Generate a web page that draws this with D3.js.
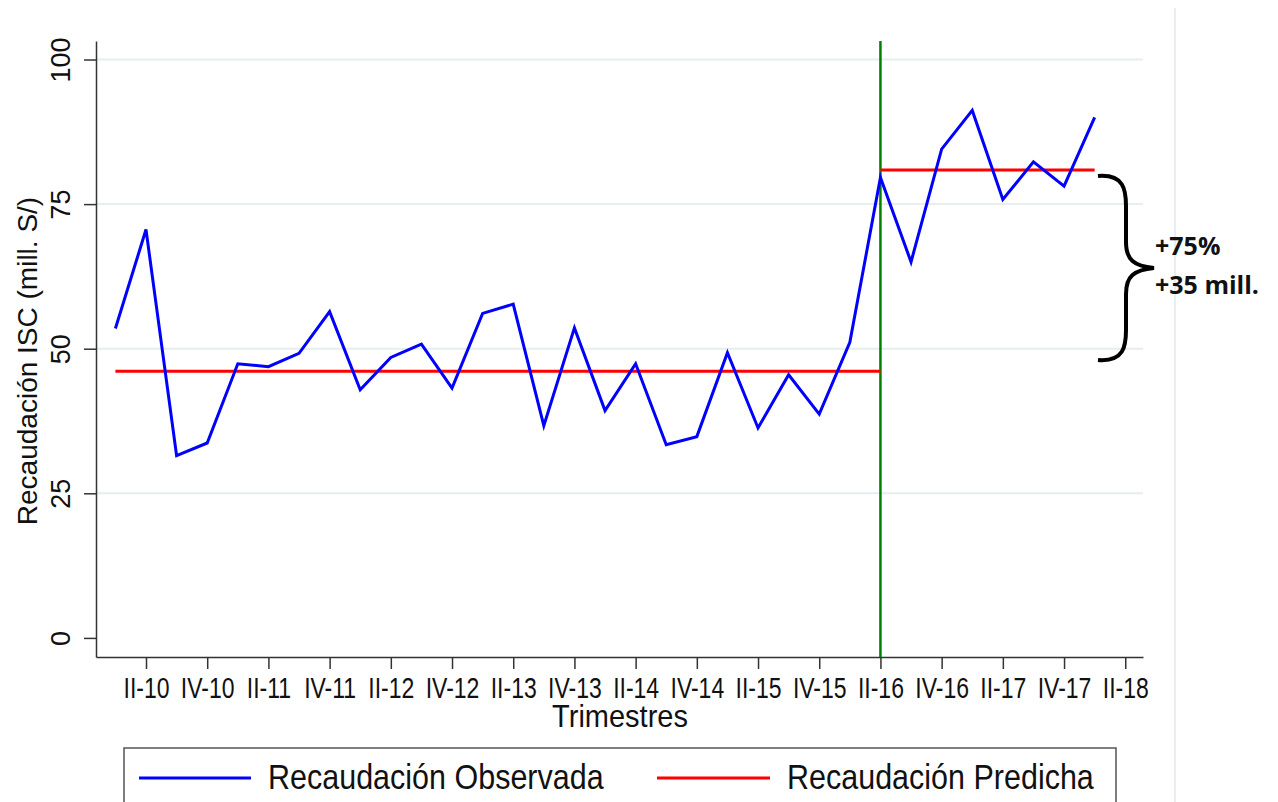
<!DOCTYPE html>
<title>Recaudacion ISC</title>
<meta charset="utf-8">
<style>
  body { margin: 0; background: #fff; }
  text { font-family: "Liberation Sans", Arial, sans-serif; fill: #111; }
  .grid line { stroke: #e6eef0; stroke-width: 2px; }
  .axis path, .axis line { stroke: #333; stroke-width: 1.5px; }
  .note { font-family: "Open Sans", sans-serif; font-weight: bold; }
</style>
<body>
<script src="https://cdn.jsdelivr.net/npm/d3@7"></script>
<script>

// quarters from I-10 to I-18
var quarters = ["I-10","II-10","III-10","IV-10","I-11","II-11","III-11","IV-11",
  "I-12","II-12","III-12","IV-12","I-13","II-13","III-13","IV-13",
  "I-14","II-14","III-14","IV-14","I-15","II-15","III-15","IV-15",
  "I-16","II-16","III-16","IV-16","I-17","II-17","III-17","IV-17","I-18"];

// observed ISC revenue (mill. S/)
var observed = [53.5, 70.6, 31.5, 33.7, 47.4, 46.9, 49.2, 56.4,
  42.9, 48.5, 50.8, 43.2, 56.1, 57.7, 36.7, 53.6,
  39.3, 47.4, 33.4, 34.8, 49.3, 36.3, 45.5, 38.7,
  51.1, 79.6, 65.0, 84.5, 91.2, 75.8, 82.3, 78.1, 90.0];

// predicted level before / after the break
var predicted = [
  {from: "I-10", to: "II-16", value: 46.1},
  {from: "II-16", to: "I-18", value: 80.9}
];

var breakQuarter = "II-16";

var xTickLabels = ["II-10","IV-10","II-11","IV-11","II-12","IV-12","II-13","IV-13",
  "II-14","IV-14","II-15","IV-15","II-16","IV-16","II-17","IV-17","II-18"];
var yTicks = [0, 25, 50, 75, 100];

var noteLines = ["+75%", "+35 mill."];
var legendLabels = ["Recaudación Observada", "Recaudación Predicha"];

var width = 1278, height = 802;
var margin = {left: 96, right: 1143, top: 41, bottom: 657};

var svg = d3.select("body").append("svg")
    .attr("width", width)
    .attr("height", height);

// index of a quarter label, II-18 goes one past the data
function qi(q) {
  var i = quarters.indexOf(q);
  return i >= 0 ? i : quarters.length;
}

var x = d3.scaleLinear().domain([-0.634, 33.58]).range([margin.left, margin.right]);
var y = d3.scaleLinear().domain([-3.3, 103.2]).range([margin.bottom, margin.top]);

// faint slide line on the right
svg.append("line")
    .attr("x1", 1175).attr("x2", 1175)
    .attr("y1", 8).attr("y2", height)
    .style("stroke", "#e8eff2").style("stroke-width", 2);

// grid lines
svg.append("g").attr("class", "grid")
  .selectAll("line")
  .data(yTicks.filter(function(d) { return d > 0; }))
  .enter().append("line")
    .attr("x1", margin.left).attr("x2", margin.right)
    .attr("y1", function(d) { return y(d); })
    .attr("y2", function(d) { return y(d); });

// y axis
var yAxis = svg.append("g")
    .attr("class", "axis")
    .attr("transform", "translate(" + margin.left + ",0)")
    .call(d3.axisLeft(y).tickValues(yTicks).tickSize(12).tickSizeOuter(0).tickFormat(d3.format("d")));

yAxis.selectAll(".tick text")
    .attr("x", null).attr("dy", null)
    .attr("y", 0)
    .attr("transform", "translate(-26,0) rotate(-90)")
    .style("text-anchor", "middle")
    .style("font-size", "27px");

// x axis
var xAxis = svg.append("g")
    .attr("class", "axis")
    .attr("transform", "translate(0," + margin.bottom + ")")
    .call(d3.axisBottom(x)
      .tickValues(xTickLabels.map(qi))
      .tickSize(12).tickSizeOuter(0)
      .tickFormat(function(d, i) { return xTickLabels[i]; }));

xAxis.selectAll(".tick text")
    .attr("y", 0).attr("dy", null)
    .attr("transform", "translate(0,41) scale(1,1.25)")
    .style("font-size", "23px");

// axis titles
svg.append("text")
    .attr("transform", "translate(620,727) scale(1,1.1)")
    .style("text-anchor", "middle")
    .style("font-size", "29px")
    .text("Trimestres");

svg.append("text")
    .attr("transform", "translate(37,361) rotate(-90)")
    .style("text-anchor", "middle")
    .style("font-size", "28px")
    .text("Recaudación ISC (mill. S/)");

// break line
svg.append("line")
    .attr("x1", x(qi(breakQuarter))).attr("x2", x(qi(breakQuarter)))
    .attr("y1", margin.top).attr("y2", margin.bottom)
    .style("stroke", "#008000").style("stroke-width", 2.5);

// predicted levels
svg.selectAll(".pred")
  .data(predicted)
  .enter().append("line")
    .attr("class", "pred")
    .attr("x1", function(d) { return x(qi(d.from)); })
    .attr("x2", function(d) { return x(qi(d.to)); })
    .attr("y1", function(d) { return y(d.value); })
    .attr("y2", function(d) { return y(d.value); })
    .style("stroke", "#ff0000").style("stroke-width", 3);

// observed line
svg.append("path")
    .datum(observed)
    .attr("d", d3.line()
      .x(function(d, i) { return x(i); })
      .y(function(d) { return y(d); }))
    .style("fill", "none")
    .style("stroke", "#0000ff")
    .style("stroke-width", 3);

// brace between the two levels
var bx = 1098, by0 = 176, by1 = 360, bm = (by0 + by1) / 2;
svg.append("path")
    .attr("d", "M" + bx + "," + by0 +
      " C" + (bx + 26) + "," + (by0 - 2) + " " + (bx + 28) + "," + (by0 + 14) + " " + (bx + 28) + "," + (by0 + 30) +
      " L" + (bx + 28) + "," + (bm - 26) +
      " C" + (bx + 28) + "," + (bm - 8) + " " + (bx + 36) + "," + (bm - 2) + " " + (bx + 56) + "," + bm +
      " C" + (bx + 36) + "," + (bm + 2) + " " + (bx + 28) + "," + (bm + 8) + " " + (bx + 28) + "," + (bm + 26) +
      " L" + (bx + 28) + "," + (by1 - 30) +
      " C" + (bx + 28) + "," + (by1 - 14) + " " + (bx + 26) + "," + (by1 + 2) + " " + bx + "," + by1)
    .style("fill", "none")
    .style("stroke", "#000")
    .style("stroke-width", 4);

svg.selectAll(".note")
  .data(noteLines)
  .enter().append("text")
    .attr("class", "note")
    .attr("x", 1155)
    .attr("y", function(d, i) { return 255 + i * 39; })
    .style("font-size", "25px")
    .text(function(d) { return d; });

// legend
var legend = svg.append("g");
legend.append("rect")
    .attr("x", 124).attr("y", 748)
    .attr("width", 992).attr("height", 70)
    .style("fill", "#fff")
    .style("stroke", "#555")
    .style("stroke-width", 1.5);

var legendItems = [
  {label: legendLabels[0], color: "#0000ff", x0: 139, x1: 251, tx: 268},
  {label: legendLabels[1], color: "#ff0000", x0: 657, x1: 770, tx: 787}
];

legend.selectAll(".lg")
  .data(legendItems)
  .enter().append("line")
    .attr("x1", function(d) { return d.x0; })
    .attr("x2", function(d) { return d.x1; })
    .attr("y1", 778).attr("y2", 778)
    .style("stroke", function(d) { return d.color; })
    .style("stroke-width", 3);

legend.selectAll(".lt")
  .data(legendItems)
  .enter().append("text")
    .attr("transform", function(d) { return "translate(" + d.tx + ",789) scale(1,1.12)"; })
    .style("font-size", "30.5px")
    .text(function(d) { return d.label; });

</script>
</body>
